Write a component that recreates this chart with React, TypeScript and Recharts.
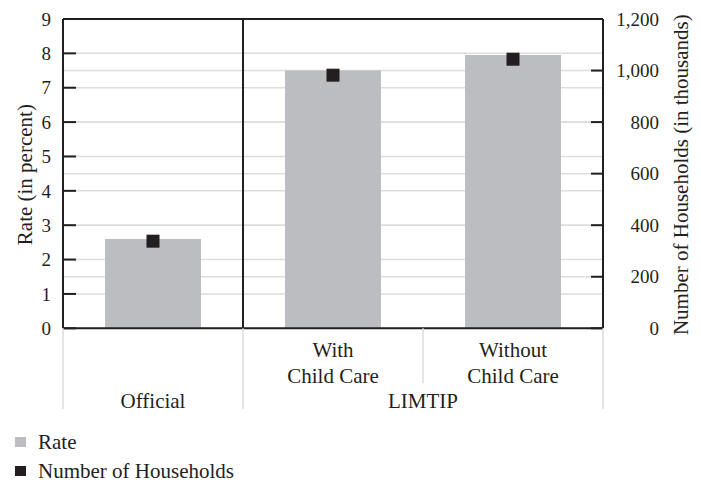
import React from 'react';
import {
  ComposedChart,
  Bar,
  Line,
  XAxis,
  YAxis,
  CartesianGrid,
  ReferenceLine,
  Legend,
} from 'recharts';

// ---- data ----
const categories = ['Official', 'With Child Care', 'Without Child Care'];
const groupLabels = ['Official', 'LIMTIP', 'LIMTIP'];
const subLabels: string[][] = [[], ['With', 'Child Care'], ['Without', 'Child Care']];
const rateValues = [2.6, 7.5, 7.95];
const householdValues = [338, 982, 1044];
const rateTicks = [0, 1, 2, 3, 4, 5, 6, 7, 8, 9];
const householdTicks = [0, 200, 400, 600, 800, 1000, 1200];
const seriesNames = ['Rate', 'Number of Households'];
const leftTitle = 'Rate (in percent)';
const rightTitle = 'Number of Households (in thousands)';

// ---- styles ----
const INK = '#231f20';
const BAR = '#bcbdc0';
const GRID = '#dcdddf';
const FONT = 'Liberation Serif, DejaVu Serif, Times New Roman, serif';
const seriesColors = [BAR, INK];

const data = categories.map((name, i) => ({
  name,
  rate: rateValues[i],
  households: householdValues[i],
}));

const CategoryTick = (props: any) => {
  const { x, y, index, width, visibleTicksCount } = props;
  const count = visibleTicksCount || categories.length;
  const band = (width || 540) / count;
  const group = groupLabels[index];
  const isGroupStart = index === 0 || groupLabels[index - 1] !== group;
  let span = 1;
  while (index + span < groupLabels.length && groupLabels[index + span] === group) span++;
  const groupCenter = x - band / 2 + (span * band) / 2;
  const sub = subLabels[index] || [];
  const textStyle = { fontFamily: FONT, fontSize: 21, fill: INK };
  return (
    <g>
      <line
        x1={x - band / 2}
        x2={x - band / 2}
        y1={y}
        y2={y + (isGroupStart ? 81 : 55)}
        stroke={GRID}
        strokeWidth={1.5}
      />
      {index === count - 1 && (
        <line x1={x + band / 2} x2={x + band / 2} y1={y} y2={y + 81} stroke={GRID} strokeWidth={1.5} />
      )}
      {sub.map((s, k) => (
        <text key={k} x={x} y={y + 28.5 + k * 26} textAnchor="middle" style={textStyle}>
          {s}
        </text>
      ))}
      {isGroupStart && (
        <text x={groupCenter} y={y + 80} textAnchor="middle" style={textStyle}>
          {group}
        </text>
      )}
    </g>
  );
};

const VerticalTitle = (text: string, dxFromAxis: number) => (p: any) => {
  const vb = p.viewBox || {};
  const cx = vb.x + dxFromAxis;
  const cy = vb.y + vb.height / 2 + 1;
  return (
    <text
      x={cx}
      y={cy}
      transform={`rotate(-90 ${cx} ${cy})`}
      textAnchor="middle"
      dy="0.35em"
      style={{ fontFamily: FONT, fontSize: 21, fill: INK }}
    >
      {text}
    </text>
  );
};

const LegendContent = () => (
  <div style={{ fontFamily: FONT, fontSize: 21, color: INK }}>
    {seriesNames.map((n, i) => (
      <div key={n} style={{ display: 'flex', alignItems: 'center', height: 29 }}>
        <span
          style={{
            width: 11,
            height: 10,
            background: seriesColors[i],
            display: 'inline-block',
            marginRight: 12,
          }}
        />
        <span>{n}</span>
      </div>
    ))}
  </div>
);

export default function App() {
  return (
    <div style={{ position: 'absolute', left: 0, top: 0, fontFamily: FONT }}>
      <ComposedChart
        width={701}
        height={484}
        data={data}
        margin={{ top: 19, right: 0, bottom: 65.7, left: 0 }}
        style={{ fontFamily: FONT }}
      >
        <CartesianGrid yAxisId="left" vertical={false} stroke={GRID} strokeWidth={1.5} />
        <CartesianGrid yAxisId="right" vertical={false} stroke={GRID} strokeWidth={1.5} />
        <XAxis
          dataKey="name"
          height={90}
          interval={0}
          tickSize={0}
          tickMargin={0}
          tickLine={false}
          axisLine={{ stroke: INK, strokeWidth: 2 }}
          tick={<CategoryTick />}
        />
        <YAxis
          yAxisId="left"
          orientation="left"
          width={63}
          domain={[0, 9]}
          ticks={rateTicks}
          interval={0}
          tickSize={-13}
          tickMargin={25}
          axisLine={{ stroke: INK, strokeWidth: 2 }}
          tickLine={{ stroke: INK, strokeWidth: 2 }}
          tick={{ fill: INK, fontSize: 19, fontFamily: FONT }}
          label={{ content: VerticalTitle(leftTitle, 25) }}
        />
        <YAxis
          yAxisId="right"
          orientation="right"
          width={98}
          domain={[0, 1200]}
          ticks={householdTicks}
          interval={0}
          tickSize={-12}
          tickMargin={68}
          tickFormatter={(v: number) => v.toLocaleString('en-US')}
          axisLine={{ stroke: INK, strokeWidth: 2 }}
          tickLine={{ stroke: INK, strokeWidth: 2 }}
          tick={{ fill: INK, fontSize: 19, fontFamily: FONT, textAnchor: 'end' }}
          label={{ content: VerticalTitle(rightTitle, 78) }}
        />
        <Bar
          yAxisId="left"
          dataKey="rate"
          name={seriesNames[0]}
          fill={BAR}
          barSize={96}
          isAnimationActive={false}
        />
        <Line
          yAxisId="right"
          dataKey="households"
          name={seriesNames[1]}
          stroke="none"
          activeDot={false}
          isAnimationActive={false}
          dot={(p: any) => (
            <rect key={`sq-${p.index}`} x={p.cx - 6.5} y={p.cy - 6.5} width={13} height={13} fill={INK} />
          )}
        />
        <ReferenceLine yAxisId="left" y={9} stroke={INK} strokeWidth={2} />
        <ReferenceLine
          yAxisId="left"
          x={categories[1]}
          position="start"
          stroke={INK}
          strokeWidth={2}
        />
        <Legend
          layout="horizontal"
          verticalAlign="middle"
          align="center"
          content={<LegendContent />}
          wrapperStyle={{ position: 'absolute', left: 15, top: 427.5, width: 300, height: 60 }}
        />
      </ComposedChart>
    </div>
  );
}
